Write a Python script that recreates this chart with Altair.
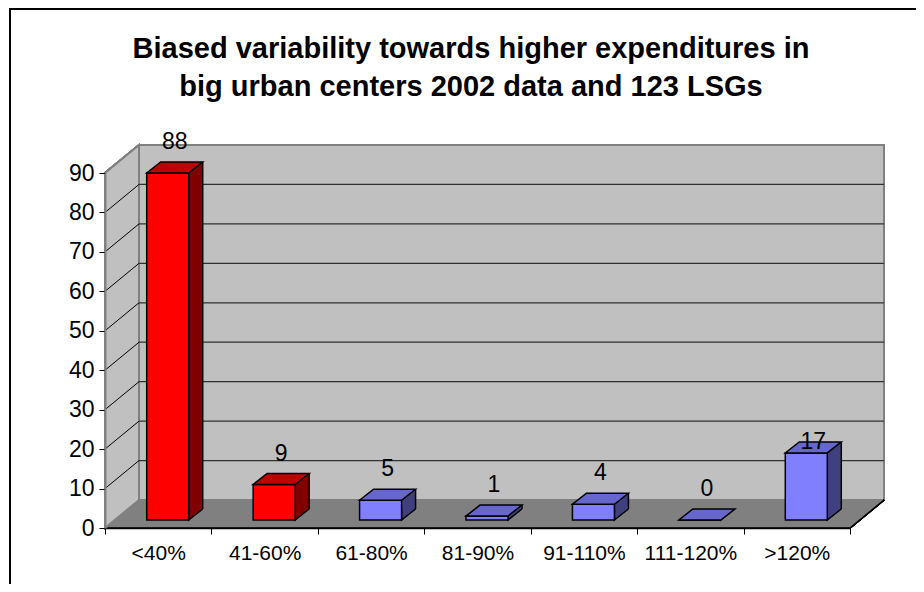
import altair as alt
import pandas as pd

# ---------------- data ----------------
CATEGORIES = ["<40%", "41-60%", "61-80%", "81-90%", "91-110%", "111-120%", ">120%"]
COUNTS = [88, 9, 5, 1, 4, 0, 17]
GROUPS = ["low", "low", "high", "high", "high", "high", "high"]
Y_TICKS = [0, 10, 20, 30, 40, 50, 60, 70, 80, 90]
TITLE_LINES = ["Biased variability towards higher expenditures in",
               "big urban centers 2002 data and 123 LSGs"]

# ---------------- styling / geometry ----------------
W, H = 745, 355          # front plane of the 3-D box
WALL_DX, WALL_DY = 34, 28
BAR_W = 42
BAR_DX = 9.5             # bars sit a bit behind the front plane
BAR_DY = 8
DEP_X, DEP_Y = 14, 11    # depth of each bar
FONT = "Liberation Sans"
LOW_LABEL_CATS = [">120%"]   # labels that sit lower, overlapping the bar top

FRONT = ("#FF0000", "#8080FF")
TOP = ("#C00000", "#6666CC")
SIDE = ("#800000", "#404080")


def col(pair):
    return alt.when(alt.datum.grp == "low").then(alt.value(pair[0])).otherwise(alt.value(pair[1]))


df = pd.DataFrame({"cat": CATEGORIES, "n": COUNTS, "grp": GROUPS})
grid = pd.DataFrame({"v": Y_TICKS})
inner_grid = grid[(grid.v > 0) & (grid.v < 90)]

x_axis = alt.Axis(title=None, labelFont=FONT, labelFontSize=21, labelColor="black",
                  labelAngle=0, domainColor="black", domainWidth=1.5, tickColor="black",
                  tickSize=6, tickWidth=1, tickBand="extent", labelPadding=8, zindex=1)
y_axis = alt.Axis(title=None, values=Y_TICKS, labelFont=FONT, labelFontSize=23,
                  labelColor="black", domainColor="#808080", domainWidth=2,
                  tickColor="black", tickSize=6, tickWidth=1, labelPadding=5,
                  grid=False, zindex=1)
x_scale = alt.Scale(domain=CATEGORIES, paddingInner=0, paddingOuter=0)
y_scale = alt.Scale(domain=[0, 90], nice=False, zero=True)

X = alt.X("cat:N", sort=CATEGORIES, scale=x_scale, axis=x_axis)


def Y(field):
    return alt.Y(field, type="quantitative", scale=y_scale, axis=y_axis)


def YD(v):
    return alt.YDatum(v, type="quantitative", scale=y_scale, axis=y_axis)


base = alt.Chart(df)
gbase = alt.Chart(inner_grid)

# outer frame of the chart
frame = base.mark_rect(fillOpacity=0, stroke="black", strokeWidth=1.5).encode(
    x=alt.value(-95), x2=alt.value(W + 120), y=alt.value(-164), y2=alt.value(H + 120)
)

# back wall
back = base.mark_rect(fill="#C0C0C0", stroke="#808080", strokeWidth=2,
                      yOffset=-WALL_DY, y2Offset=-WALL_DY).encode(
    x=alt.value(WALL_DX), x2=alt.value(W + WALL_DX), y=YD(90), y2=alt.Y2Datum(0)
)

back_grid = gbase.mark_rule(color="#303030", strokeWidth=1.3, yOffset=-WALL_DY).encode(
    x=alt.value(WALL_DX), x2=alt.value(W + WALL_DX), y=Y("v")
)

floor_path = f"M{W + WALL_DX},{-WALL_DY} L{W},0 L0,0 L{WALL_DX},{-WALL_DY}"
floor = base.mark_point(shape=floor_path, size=4, filled=True, opacity=1,
                        fill="#808080", stroke="black", strokeWidth=1.5).encode(
    x=alt.value(0), y=YD(0)
)

left_path = f"M0,0 L0,{-H} L{WALL_DX},{-H - WALL_DY} L{WALL_DX},{-WALL_DY} Z"
left = base.mark_point(shape=left_path, size=4, filled=True, opacity=1,
                       fill="#C0C0C0", stroke="#808080", strokeWidth=2).encode(
    x=alt.value(0), y=YD(0)
)

left_grid = gbase.mark_rule(color="black", strokeWidth=1, y2Offset=-WALL_DY).encode(
    x=alt.value(0), x2=alt.value(WALL_DX), y=Y("v"), y2=alt.Y2("v")
)

# bars (pseudo 3-D)
hw = BAR_W / 2
side = base.mark_bar(size=BAR_W, xOffset=BAR_DX + DEP_X,
                     yOffset=-(BAR_DY + DEP_Y), y2Offset=-(BAR_DY + DEP_Y)).encode(
    x=X, y=Y("n"), y2=alt.Y2Datum(0), fill=col(SIDE)
)

patch_path = f"M{hw},{-DEP_Y} L{hw},0 L{hw + DEP_X},{-DEP_Y}"
patch = base.mark_point(shape=patch_path, size=4, filled=True, opacity=1,
                        stroke="black", strokeWidth=1.5,
                        xOffset=BAR_DX, yOffset=-BAR_DY).encode(
    x=X, y=YD(0), fill=col(SIDE)
)

edge = base.mark_rule(color="black", strokeWidth=1.5, xOffset=BAR_DX + hw + DEP_X,
                      yOffset=-(BAR_DY + DEP_Y), y2Offset=-(BAR_DY + DEP_Y)).encode(
    x=X, y=Y("n"), y2=alt.Y2Datum(0)
)

front = base.mark_bar(size=BAR_W, xOffset=BAR_DX, yOffset=-BAR_DY, y2Offset=-BAR_DY,
                      stroke="black", strokeWidth=1.5).encode(
    x=X, y=Y("n"), y2=alt.Y2Datum(0), fill=col(FRONT)
)

top_path = f"M{-hw},0 L{hw},0 L{hw + DEP_X},{-DEP_Y} L{-hw + DEP_X},{-DEP_Y} Z"
top = base.mark_point(shape=top_path, size=4, filled=True, opacity=1,
                      stroke="black", strokeWidth=1.5,
                      xOffset=BAR_DX, yOffset=-BAR_DY).encode(
    x=X, y=Y("n"), fill=col(TOP)
)

low_test = alt.FieldOneOfPredicate(field="cat", oneOf=LOW_LABEL_CATS)
labels = base.transform_filter(~low_test).mark_text(
    font=FONT, fontSize=23, color="black", align="center",
    baseline="middle", xOffset=BAR_DX + 7, yOffset=-(BAR_DY + 31)
).encode(x=X, y=Y("n"), text=alt.Text("n:Q"))

labels_low = base.transform_filter(low_test).mark_text(
    font=FONT, fontSize=23, color="black", align="center",
    baseline="middle", xOffset=BAR_DX + 7, yOffset=-(BAR_DY + 11)
).encode(x=X, y=Y("n"), text=alt.Text("n:Q"))

title = alt.Chart(pd.DataFrame({"k": [0]})).mark_text(
    font=FONT, fontSize=29, fontWeight="bold", color="black", align="center",
    baseline="alphabetic", lineHeight=38
).encode(x=alt.value(366), y=alt.value(-115), text=alt.value(TITLE_LINES))

chart = alt.layer(
    frame, back, floor, left, back_grid, left_grid,
    side, patch, edge, front, top, labels, labels_low, title
).properties(
    width=W, height=H, autosize="none",
    padding={"left": 97, "top": 165, "right": 66, "bottom": 56},
    background="white"
).configure_view(stroke=None)

chart.save("out.html", embed_options={"renderer": "svg", "actions": False})
